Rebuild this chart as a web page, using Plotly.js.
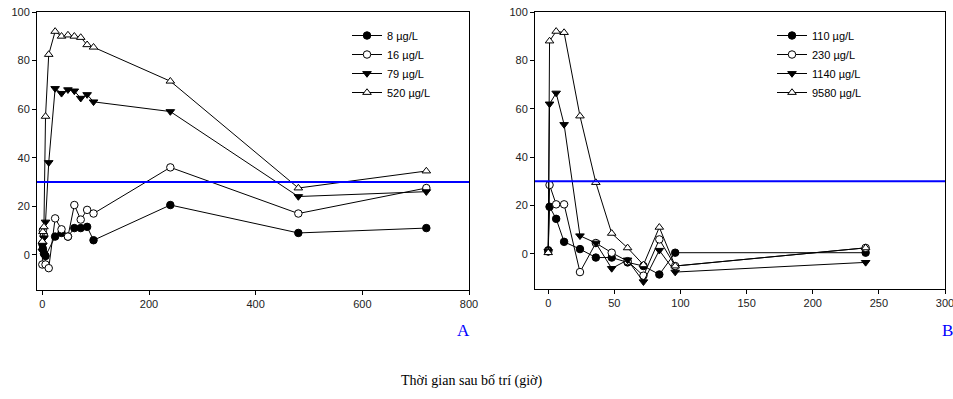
<!DOCTYPE html>
<html>
<head>
<meta charset="utf-8">
<script src="https://cdn.plot.ly/plotly-3.0.1.min.js"></script>
<style>html,body{margin:0;padding:0;background:#fff;}#chart{width:953px;height:399px;}</style>
</head>
<body>
<div id="chart"></div>
<script>
// ---- Panel A data ----
const tA8 = [0, 1, 3, 6, 24, 36, 48, 60, 72, 84, 96, 240, 480, 720];
const vA8 = [4.5, 2.5, 0.5, -0.5, 7.5, 9, 7.5, 11, 11, 11.5, 6, 20.5, 9, 11];
const tA16 = [0, 1, 3, 6, 12, 24, 36, 48, 60, 72, 84, 96, 240, 480, 720];
const vA16 = [-4, 10, 8, -4, -5.5, 15, 10.5, 7.5, 20.5, 14.5, 18.5, 17, 36, 17, 27.5];
const tA79 = [0, 1, 3, 6, 12, 24, 36, 48, 60, 72, 84, 96, 240, 480, 720];
const vA79 = [1.5, 4, 7, 13.5, 38, 68.5, 66.5, 68, 67.5, 64.5, 66, 63, 59, 24, 26];
const tA520 = [0, 1, 3, 6, 12, 24, 36, 48, 60, 72, 84, 96, 240, 480, 720];
const vA520 = [5.5, 9.5, 11.5, 57, 82.5, 92, 90, 90.5, 90, 89.5, 86.5, 85.5, 71.5, 27.5, 34.5];
const namesA = ["8 \u00b5g/L", "16 \u00b5g/L", "79 \u00b5g/L", "520 \u00b5g/L"];

// ---- Panel B data ----
const tB = [0, 1, 6, 12, 24, 36, 48, 60, 72, 84, 96, 240];
const vB110 = [1.5, 19.5, 14.5, 5, 2, -1.5, -1.5, -3.5, -5, -8.5, 0.5, 0.5];
const vB230 = [1, 28.5, 20.5, 20.5, -7.5, 4.5, 0.5, -3, -9, 6, -5, 2.5];
const vB1140 = [1, 62, 66.5, 53.5, 7.5, 4.5, -6, -2.5, -11.5, 1.5, -7.5, -3.5];
const vB9580 = [0.5, 88, 92, 91.5, 57, 29.5, 8.5, 2.5, -4.5, 11, -5, 2.5];
const namesB = ["110 \u00b5g/L", "230 \u00b5g/L", "1140 \u00b5g/L", "9580 \u00b5g/L"];

const threshold = 30;
const xTitle = "Thời gian sau bố trí (giờ)";

const styles = [
  {symbol: "circle", color: "#000000"},
  {symbol: "circle-open", color: "#000000", fill: true},
  {symbol: "triangle-down", color: "#000000"},
  {symbol: "triangle-up-open", color: "#000000", fill: true}
];

function mk(x, y, name, st, xa, ya, legend) {
  const marker = st.fill
    ? {symbol: st.symbol.replace("-open", ""), size: 7.5, color: "#ffffff", line: {color: "#000000", width: 1}}
    : {symbol: st.symbol, size: 7.5, color: "#000000", line: {color: "#000000", width: 1}};
  return {
    x: x, y: y, name: name, type: "scatter", mode: "lines+markers",
    xaxis: xa, yaxis: ya, legend: legend,
    line: {color: "#000000", width: 1},
    marker: marker
  };
}

const traces = [
  mk(tA8, vA8, namesA[0], styles[0], "x", "y", "legend"),
  mk(tA16, vA16, namesA[1], styles[1], "x", "y", "legend"),
  mk(tA79, vA79, namesA[2], styles[2], "x", "y", "legend"),
  mk(tA520, vA520, namesA[3], styles[3], "x", "y", "legend"),
  mk(tB, vB110, namesB[0], styles[0], "x2", "y2", "legend2"),
  mk(tB, vB230, namesB[1], styles[1], "x2", "y2", "legend2"),
  mk(tB, vB1140, namesB[2], styles[2], "x2", "y2", "legend2"),
  mk(tB, vB9580, namesB[3], styles[3], "x2", "y2", "legend2")
];

const W = 953, H = 399;
const px = v => v / W, py = v => 1 - v / H;

const axFont = {family: "Liberation Sans, Arial, sans-serif", size: 11, color: "#222222"};
const common = {
  showgrid: false, zeroline: false, showline: true, linecolor: "#000000", linewidth: 1,
  mirror: true, ticks: "outside", ticklen: 4, tickcolor: "#000000", tickfont: axFont,
  ticklabeloverflow: "allow"
};

const legFont = {family: "Liberation Sans, Arial, sans-serif", size: 11, color: "#000"};

const layout = {
  width: W, height: H,
  margin: {l: 0, r: 0, t: 0, b: 0},
  paper_bgcolor: "#ffffff", plot_bgcolor: "#ffffff",
  showlegend: true,
  xaxis: Object.assign({}, common, {domain: [px(37), px(469)], range: [-10, 800], tickvals: [0, 200, 400, 600, 800], anchor: "y"}),
  yaxis: Object.assign({}, common, {domain: [py(290), py(12)], range: [-14.5, 100], tickvals: [0, 20, 40, 60, 80, 100], anchor: "x"}),
  xaxis2: Object.assign({}, common, {domain: [px(535), px(945)], range: [-10, 300], tickvals: [0, 50, 100, 150, 200, 250, 300], anchor: "y2"}),
  yaxis2: Object.assign({}, common, {domain: [py(289), py(12)], range: [-14.5, 100], tickvals: [0, 20, 40, 60, 80, 100], anchor: "x2"}),
  legend: {x: px(347), y: py(21), xanchor: "left", yanchor: "top", bgcolor: "rgba(0,0,0,0)",
    font: legFont, tracegroupgap: 0},
  legend2: {x: px(772), y: py(21), xanchor: "left", yanchor: "top", bgcolor: "rgba(0,0,0,0)",
    font: legFont, tracegroupgap: 0},
  shapes: [
    {type: "line", xref: "x domain", yref: "y", x0: 0, x1: 1, y0: threshold, y1: threshold, line: {color: "#0000ff", width: 2}},
    {type: "line", xref: "x2 domain", yref: "y2", x0: 0, x1: 1, y0: threshold, y1: threshold, line: {color: "#0000ff", width: 2}}
  ],
  annotations: [
    {text: "A", xref: "paper", yref: "paper", x: px(463), y: py(330), xanchor: "center", yanchor: "middle", showarrow: false,
      font: {family: "Liberation Serif, Times New Roman, serif", size: 17, color: "#0000ff"}},
    {text: "B", xref: "paper", yref: "paper", x: px(947), y: py(330), xanchor: "center", yanchor: "middle", showarrow: false,
      font: {family: "Liberation Serif, Times New Roman, serif", size: 17, color: "#0000ff"}},
    {text: xTitle, xref: "paper", yref: "paper", x: px(472), y: py(381), xanchor: "center", yanchor: "middle", showarrow: false,
      font: {family: "Liberation Serif, Times New Roman, serif", size: 14, color: "#000000"}}
  ]
};

Plotly.newPlot("chart", traces, layout, {displayModeBar: false, staticPlot: true});
</script>
</body>
</html>
